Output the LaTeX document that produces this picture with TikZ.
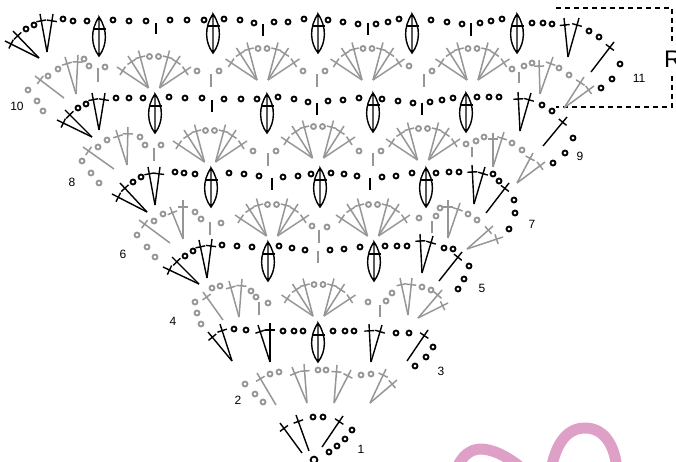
\documentclass[tikz,border=0pt]{standalone}
\usepackage{fontspec}
\setmainfont{Liberation Sans}
\usetikzlibrary{calc}
\definecolor{yarngray}{RGB}{150,150,150}
\definecolor{ribbon}{RGB}{223,160,200}
\tikzset{
  blk/.style={black,line width=1.4pt},
  gry/.style={yarngray,line width=1.5pt},
  num/.style={inner sep=0pt,font=\fontsize{12}{12}\selectfont},
  dsh/.style={black,line width=1.1pt,dash pattern=on 5pt off 4pt},
}
% chain of small rings
\newcommand{\chn}[2]{\foreach \p in {#2} \draw[#1,line width=1.8pt] \p circle[radius=2.5pt];}
% stem with one cross bar near its tip
\newcommand{\stm}[3]{%
  \coordinate (m) at ($#2!0.82!#3$);
  \draw[#1] #2 -- #3 ($(m)!5pt!90:#3$) -- ($(m)!5pt!-90:#3$);}
% single short tick
\newcommand{\tck}[4]{\draw[#1] (#2,#3) -- (#2,#4);}
% leaf: x, top, bottom
\newcommand{\leaf}[3]{%
  \draw[blk] (#1,#2) .. controls (#1-9,#2+13) and (#1-8,#3-10) .. (#1,#3)
    .. controls (#1+8,#3-10) and (#1+9,#2+13) .. (#1,#2) -- (#1,#3);
  \draw[blk] (#1-6.5,#2+12) -- (#1+6.5,#2+12);}
% gray shell: centre x, base y
\newcommand{\shl}[2]{%
  \foreach \sg in {-1,1} \foreach \dx/\dy in {15.5/37.5,26/32,37/21}
    {\stm{gry}{(#1+\sg*5.5,#2)}{(#1+\sg*\dx,#2-\dy)}}
  \chn{gry}{(#1-4.5,#2-31.5),(#1+4.5,#2-31.5)}}
\begin{document}
\begin{tikzpicture}[x=1pt,y=-1pt]
  \useasboundingbox (0,0) rectangle (676,462);
  % ribbon at the bottom
  \draw[ribbon,line width=11pt] (456,470) .. controls (464,450) and (476,449) .. (482,449)
    .. controls (497,450) and (512,460) .. (524,470);
  \draw[ribbon,line width=11pt] (551,470) .. controls (556,442) and (568,428) .. (585,428)
    .. controls (604,428) and (615,445) .. (617,470);
  % repeat box
  \coordinate (ra) at (556,8);
  \coordinate (rb) at (672,8);
  \coordinate (rc) at (672,42);
  \coordinate (rd) at (672,76);
  \coordinate (re) at (672,107);
  \coordinate (rf) at (556,107);
  \draw[dsh] (ra) -- (rb) -- (rc);
  \draw[dsh] (rd) -- (re) -- (rf);
  \node[inner sep=0pt,anchor=west,font=\fontsize{24}{24}\selectfont] (rep) at (664,59) {R};
  % row numbers
  \node[num] (n1) at (361,449) {1};
  \node[num] (n2) at (238,400) {2};
  \node[num] (n3) at (441,371) {3};
  \node[num] (n4) at (173,321) {4};
  \node[num] (n5) at (482,288) {5};
  \node[num] (n6) at (123,254) {6};
  \node[num] (n7) at (532,224) {7};
  \node[num] (n8) at (72,182) {8};
  \node[num] (n9) at (580,156) {9};
  \node[num] (n10) at (17,106) {10};
  \node[num] (n11) at (639,78) {11};
  % row 1
  \draw[blk,line width=1.8pt] (314,460) circle[radius=3.4pt];
  \stm{blk}{(302,453)}{(280,423)}
  \stm{blk}{(309,451)}{(296,415)}
  \stm{blk}{(322,447)}{(343,416)}
  \chn{blk}{(313,417),(323,417),(352,430),(345,439),(337,446),(329,452)}
  % row 2
  \chn{gry}{(245,384),(255,394),(263,402),(270,374),(279,372),(318,370),(326,370),(361,375),(371,374)}
  \stm{gry}{(276,405)}{(257,373)}
  \stm{gry}{(307,403)}{(292,367)}
  \stm{gry}{(307,403)}{(304,364)}
  \stm{gry}{(334,403)}{(337,365)}
  \stm{gry}{(334,403)}{(351,370)}
  \stm{gry}{(370,403)}{(386,369)}
  \stm{gry}{(370,403)}{(397,380)}
  % row 3
  \chn{blk}{(234,329),(246,330),(283,331),(294,331),(303,331),(333,331),(345,331),(354,331),(396,333),(409,333),(433,347),(426,357),(415,366)}
  \stm{blk}{(232,361)}{(208,332)}
  \stm{blk}{(232,361)}{(220,324)}
  \stm{blk}{(270,362)}{(258,325)}
  \stm{blk}{(270,362)}{(270,323)}
  \leaf{318}{323}{362}
  \stm{blk}{(371,362)}{(369,324)}
  \stm{blk}{(371,362)}{(382,325)}
  \stm{blk}{(407,361)}{(428,330)}
  % row 4
  \chn{gry}{(195,302),(197,313),(201,324),(212,288),(220,286),(251,291),(256,297),(268,303),(368,302),(386,301),(392,293),(422,287),(431,290)}
  \stm{gry}{(223,320)}{(203,292)}
  \stm{gry}{(239,317)}{(229,281)}
  \stm{gry}{(239,317)}{(242,279)}
  \tck{gry}{259}{302}{315}
  \shl{318.5}{316}
  \tck{gry}{380}{305}{317}
  \stm{gry}{(408,315)}{(400,278)}
  \stm{gry}{(408,315)}{(412,278)}
  \stm{gry}{(418,318)}{(442,290)}
  \stm{gry}{(418,318)}{(448,303)}
  % row 5
  \chn{blk}{(185,256),(193,251),(222,245),(237,246),(252,247),(279,246),(292,248),(305,250),(330,250),(344,249),(360,247),(385,246),(397,246),(407,246),(444,248),(453,249),(469,266),(464,279),(458,289)}
  \stm{blk}{(199,284)}{(163,267)}
  \stm{blk}{(199,284)}{(172,257)}
  \stm{blk}{(207,278)}{(199,240)}
  \stm{blk}{(207,278)}{(212,239)}
  \leaf{268}{242}{281}
  \leaf{374}{242}{281}
  \stm{blk}{(422,273)}{(420,234)}
  \stm{blk}{(422,273)}{(433,236)}
  \stm{blk}{(439,281)}{(462,252)}
  \tck{gry}{318}{251}{263}
  % row 6
  \chn{gry}{(137,235),(147,247),(155,257),(154,221),(163,214),(195,212),(201,219),(221,223),(312,226),(327,227),(419,218),(436,216),(440,208),(468,214),(477,220)}
  \stm{gry}{(170,243)}{(139,220)}
  \stm{gry}{(183,239)}{(170,207)}
  \stm{gry}{(183,239)}{(183,200)}
  \tck{gry}{210}{222}{235}
  \shl{272}{236}
  \tck{gry}{319}{230}{243}
  \shl{373}{236}
  \tck{gry}{432}{221}{233}
  \stm{gry}{(448,238)}{(448,200)}
  \stm{gry}{(448,238)}{(460,203)}
  \stm{gry}{(467,249)}{(493,226)}
  \stm{gry}{(467,249)}{(503,237)}
  % row 7
  \chn{blk}{(133,182),(141,177),(175,172),(184,173),(195,174),(229,173),(244,174),(259,176),(283,177),(298,176),(311,174),(331,173),(344,174),(357,176),(382,177),(396,176),(412,173),(436,173),(449,172),(459,172),(493,174),(499,181),(514,200),(515,213),(509,229)}
  \stm{blk}{(147,212)}{(112,194)}
  \stm{blk}{(147,212)}{(120,183)}
  \stm{blk}{(155,205)}{(148,167)}
  \stm{blk}{(155,205)}{(160,167)}
  \leaf{211}{168}{207}
  \tck{blk}{272}{178}{190}
  \leaf{320}{168}{207}
  \tck{blk}{370}{178}{190}
  \leaf{426}{168}{207}
  \stm{blk}{(474,204)}{(472,165)}
  \stm{blk}{(474,204)}{(485,167)}
  \stm{blk}{(486,213)}{(509,183)}
  % row 8
  \chn{gry}{(82,161),(91,173),(99,183),(98,147),(107,140),(140,137),(145,145),(161,145),(253,151),(276,151),(359,151),(381,151),(466,144),(476,141),(484,137),(512,143),(522,150)}
  \stm{gry}{(114,169)}{(83,147)}
  \stm{gry}{(127,165)}{(116,130)}
  \stm{gry}{(127,165)}{(128,127)}
  \tck{gry}{154}{148}{161}
  \shl{210}{162}
  \tck{gry}{268}{153}{166}
  \shl{318}{158}
  \tck{gry}{373}{153}{166}
  \shl{423}{160}
  \tck{gry}{472}{147}{157}
  \stm{gry}{(493,167)}{(493,133)}
  \stm{gry}{(493,167)}{(504,132)}
  \stm{gry}{(517,183)}{(533,153)}
  \stm{gry}{(517,183)}{(545,162)}
  % row 9
  \chn{blk}{(78,108),(86,104),(116,98),(129,98),(143,98),(169,97),(185,98),(202,98),(224,99),(241,99),(257,99),(278,97),(294,99),(308,102),(328,101),(343,100),(359,98),(382,99),(398,101),(413,103),(430,102),(442,100),(453,98),(477,97),(489,97),(499,97),(542,105),(552,111),(573,138),(565,153),(553,163)}
  \stm{blk}{(92,137)}{(57,120)}
  \stm{blk}{(92,137)}{(65,110)}
  \stm{blk}{(99,130)}{(92,93)}
  \stm{blk}{(99,130)}{(105,93)}
  \leaf{155}{94}{133}
  \tck{blk}{212}{100}{112}
  \leaf{267}{94}{133}
  \tck{blk}{317}{103}{115}
  \leaf{373}{93}{132}
  \tck{blk}{422}{103}{115}
  \leaf{466}{93}{132}
  \stm{blk}{(520,131)}{(518,92)}
  \stm{blk}{(520,131)}{(531,93)}
  \stm{blk}{(543,146)}{(567,117)}
  % row 10
  \chn{gry}{(28,90),(37,101),(43,111),(48,76),(58,69),(84,59),(89,66),(105,67),(197,71),(219,71),(303,71),(325,71),(409,66),(432,71),(512,69),(524,66),(532,63),(559,68),(569,75)}
  \stm{gry}{(64,98)}{(35,76)}
  \stm{gry}{(76,94)}{(65,57)}
  \stm{gry}{(76,94)}{(78,55)}
  \tck{gry}{98}{68}{82}
  \shl{154}{88}
  \tck{gry}{211}{74}{87}
  \shl{262.5}{80}
  \tck{gry}{317}{74}{87}
  \shl{367.5}{80}
  \tck{gry}{424}{74}{87}
  \shl{472.5}{80}
  \tck{gry}{519}{72}{83}
  \stm{gry}{(540,94)}{(539,60)}
  \stm{gry}{(540,94)}{(553,57)}
  \stm{gry}{(564,108)}{(584,77)}
  \stm{gry}{(564,108)}{(594,86)}
  % row 11
  \chn{blk}{(26,29),(34,25),(63,19),(73,21),(87,21),(113,20),(129,21),(146,21),(170,20),(187,20),(204,20),(224,19),(240,20),(254,23),(274,22),(288,22),(304,19),(328,20),(343,22),(358,24),(376,24),(388,22),(399,19),(431,20),(447,22),(462,24),(480,23),(491,21),(502,19),(532,23),(543,23),(552,24),(589,31),(599,37),(620,64),(612,79),(601,88)}
  \stm{blk}{(39,58)}{(5,41)}
  \stm{blk}{(39,58)}{(13,31)}
  \stm{blk}{(47,52)}{(40,14)}
  \stm{blk}{(47,52)}{(53,14)}
  \leaf{99}{17}{56}
  \tck{blk}{156}{23}{34}
  \leaf{213}{14}{53}
  \tck{blk}{263}{24}{36}
  \leaf{318}{14}{53}
  \tck{blk}{368}{23}{35}
  \leaf{412}{14}{53}
  \tck{blk}{471}{23}{36}
  \leaf{517}{14}{53}
  \stm{blk}{(568,57)}{(564,18)}
  \stm{blk}{(568,57)}{(579,18)}
  \stm{blk}{(591,72)}{(614,42)}
\end{tikzpicture}
\end{document}
